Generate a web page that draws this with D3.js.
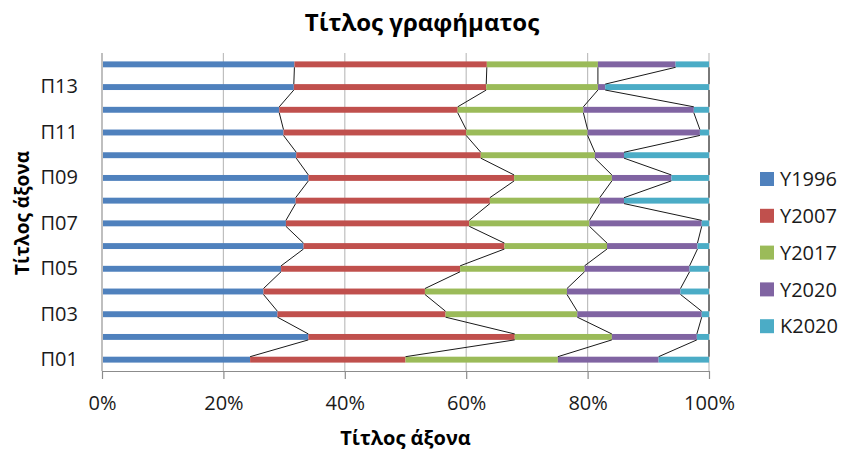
<!DOCTYPE html>
<html>
<head>
<meta charset="utf-8">
<script src="https://cdn.jsdelivr.net/npm/d3@7"></script>
<style>
  html, body { margin: 0; padding: 0; background: #fff; }
  svg { display: block; font-family: 'Open Sans', 'Noto Sans', sans-serif; }
</style>
</head>
<body>
<div id="chart"></div>
<script>
/* ── Data (percent shares) ── */
const categories = ['Π01', 'Π02', 'Π03', 'Π04', 'Π05', 'Π06', 'Π07',
                    'Π08', 'Π09', 'Π10', 'Π11', 'Π12', 'Π13', 'Π14'];
const seriesNames = ['Y1996', 'Y2007', 'Y2017', 'Y2020', 'K2020'];
const y1996 = [24.4, 34.0, 28.9, 26.6, 29.5, 33.2, 30.3, 31.9, 34.0, 32.0, 29.9, 29.2, 31.6, 31.7];
const y2007 = [25.6, 34.0, 27.7, 26.6, 29.5, 33.1, 30.2, 32.0, 33.9, 30.4, 30.1, 29.4, 31.7, 31.7];
const y2017 = [25.1, 16.0, 21.7, 23.4, 20.5, 16.9, 19.8, 18.1, 16.1, 18.8, 20.0, 20.7, 18.4, 18.3];
const y2020 = [16.6, 14.0, 20.5, 18.7, 17.3, 14.9, 18.5, 4.0, 9.8, 4.8, 18.5, 18.2, 1.2, 12.8];
const k2020 = [8.3, 2.0, 1.2, 4.7, 3.2, 1.9, 1.2, 14.0, 6.2, 14.0, 1.5, 2.5, 17.1, 5.5];
const xTicks = [0, 0.2, 0.4, 0.6, 0.8, 1];
const labelledCats = ['Π01', 'Π03', 'Π05', 'Π07', 'Π09', 'Π11', 'Π13'];

const COLORS = ['#4F81BD', '#C0504D', '#9BBB59', '#8064A2', '#4BACC6'];

/* ── Table for the stack ── */
const seriesValues = [y1996, y2007, y2017, y2020, k2020];
const table = categories.map((c, i) => {
  const row = { cat: c };
  seriesNames.forEach((s, j) => { row[s] = seriesValues[j][i]; });
  return row;
});

const W = 844, H = 452;
const plot = { left: 102, right: 709, top: 53, bottom: 371 };

const svg = d3.select('#chart').append('svg')
  .attr('width', W).attr('height', H);

const x = d3.scaleLinear().domain([0, 1]).range([plot.left, plot.right]);
const y = d3.scaleBand()
  .domain(categories.slice().reverse())
  .range([plot.top, plot.bottom])
  .paddingInner(0.74)
  .paddingOuter(0.37);

const stacked = d3.stack()
  .keys(seriesNames)
  .offset(d3.stackOffsetExpand)(table);

/* ── Gridlines ── */
svg.append('g').selectAll('line')
  .data(xTicks.filter(t => t > 0))
  .join('line')
  .attr('x1', d => x(d)).attr('x2', d => x(d))
  .attr('y1', plot.top).attr('y2', plot.bottom)
  .attr('stroke', '#BFBFBF')
  .attr('stroke-width', 1.2);

/* ── Bars ── */
svg.append('g').selectAll('g')
  .data(stacked)
  .join('g')
  .attr('fill', (_, i) => COLORS[i])
  .selectAll('rect')
  .data(d => d)
  .join('rect')
  .attr('x', d => x(d[0]))
  .attr('y', d => y(d.data.cat))
  .attr('width', d => x(d[1]) - x(d[0]))
  .attr('height', y.bandwidth());

/* ── Series lines (end of each segment, bar to bar) ── */
const line = d3.line();
const seriesG = svg.append('g')
  .attr('fill', 'none')
  .attr('stroke', '#1a1a1a')
  .attr('stroke-width', 1);
stacked.forEach(layer => {
  for (let i = 0; i < layer.length - 1; i++) {
    const lo = layer[i], hi = layer[i + 1];
    seriesG.append('path').attr('d', line([
      [x(lo[1]), y(lo.data.cat)],
      [x(hi[1]), y(hi.data.cat) + y.bandwidth()],
    ]));
  }
});

/* ── X axis ── */
const xAxis = svg.append('g')
  .attr('transform', `translate(0,${plot.bottom})`)
  .call(d3.axisBottom(x).tickValues(xTicks).tickFormat(d3.format('.0%'))
    .tickSize(8).tickPadding(17).tickSizeOuter(0));
xAxis.select('.domain').attr('stroke', '#8C8C8C').attr('stroke-width', 1.2);
xAxis.selectAll('.tick line').attr('stroke', '#8C8C8C').attr('stroke-width', 1.2);
xAxis.selectAll('.tick text')
  .attr('font-size', '20px').attr('fill', '#1a1a1a')
  .attr('font-family', "'Open Sans', sans-serif");

/* ── Y axis ── */
svg.append('line')
  .attr('x1', plot.left).attr('x2', plot.left)
  .attr('y1', plot.top).attr('y2', plot.bottom)
  .attr('stroke', '#BFBFBF').attr('stroke-width', 2);

const yAxis = svg.append('g')
  .attr('transform', `translate(${plot.left},0)`)
  .call(d3.axisLeft(y).tickValues(labelledCats).tickSize(0).tickPadding(24));
yAxis.select('.domain').remove();
yAxis.selectAll('.tick text')
  .attr('font-size', '20px').attr('fill', '#1a1a1a')
  .attr('font-family', "'Open Sans', sans-serif");

/* ── Titles ── */
svg.append('text')
  .attr('x', 422).attr('y', 31)
  .attr('text-anchor', 'middle')
  .attr('font-size', '24px').attr('font-weight', 'bold')
  .attr('fill', '#000')
  .text('Τίτλος γραφήματος');

svg.append('text')
  .attr('x', (plot.left + plot.right) / 2).attr('y', 445)
  .attr('text-anchor', 'middle')
  .attr('font-size', '20px').attr('font-weight', 'bold')
  .attr('fill', '#000')
  .text('Τίτλος άξονα');

svg.append('text')
  .attr('transform', 'translate(29,213) rotate(-90)')
  .attr('text-anchor', 'middle')
  .attr('font-size', '19px').attr('font-weight', 'bold')
  .attr('fill', '#000')
  .text('Τίτλος άξονα');

/* ── Legend ── */
const legend = svg.append('g').selectAll('g')
  .data(seriesNames)
  .join('g')
  .attr('transform', (_, i) => `translate(760,${179 + i * 36.8})`);
legend.append('rect')
  .attr('x', 0).attr('y', -7)
  .attr('width', 14).attr('height', 14)
  .attr('fill', (_, i) => COLORS[i]);
legend.append('text')
  .attr('x', 20).attr('dy', '0.36em')
  .attr('font-size', '20px').attr('fill', '#1a1a1a')
  .text(d => d);
</script>
</body>
</html>
